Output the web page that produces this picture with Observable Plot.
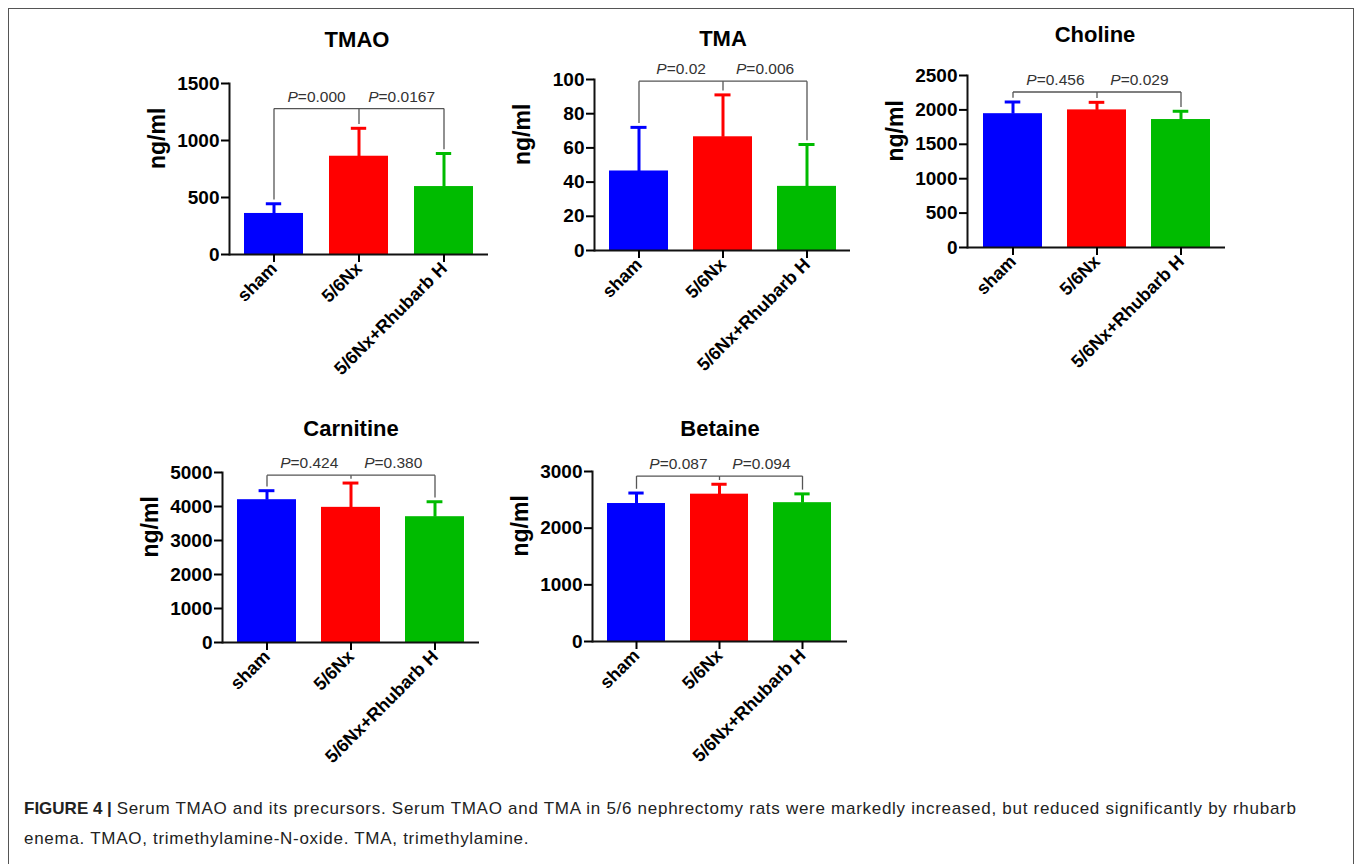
<!DOCTYPE html>
<html><head><meta charset="utf-8">
<script src="https://cdn.jsdelivr.net/npm/d3@7"></script>
<script src="https://cdn.jsdelivr.net/npm/@observablehq/plot@0.6"></script>
<style>
body{margin:0;background:#fff;width:1356px;height:864px;overflow:hidden;position:relative;font-family:"Liberation Sans",Arial,sans-serif;}
#border{position:absolute;left:8px;top:8px;width:1346px;height:900px;border:1.5px solid #555;border-bottom:none;box-sizing:border-box;}
.panel{position:absolute;}
.panel svg{overflow:visible;}
.title{position:absolute;font-weight:bold;font-size:22px;line-height:22px;transform:translateX(-50%);white-space:nowrap;color:#000;}
#caption{position:absolute;left:24px;top:794px;font-size:17px;line-height:30px;color:#222;white-space:nowrap;}
#caption span{letter-spacing:0.72px;}
</style></head><body>
<div id="border"></div>
<div id="root"></div>
<div id="caption"><b>FIGURE 4 |</b> <span>Serum TMAO and its precursors. Serum TMAO and TMA in 5/6 nephrectomy rats were markedly increased, but reduced significantly by rhubarb</span><br><span>enema. TMAO, trimethylamine-N-oxide. TMA, trimethylamine.</span></div>
<script>
// ---------- data ----------
const groups = ["sham", "5/6Nx", "5/6Nx+Rhubarb H"];
const barColors = ["#0000ff", "#ff0000", "#00bb00"];
const titles = ["TMAO", "TMA", "Choline", "Carnitine", "Betaine"];
const yLabel = "ng/ml";

const meanTMAO = [360, 862, 596];
const sdTMAO = [85, 245, 290];
const meanTMA = [46.5, 66.5, 37.5];
const sdTMA = [25.5, 24.5, 24.5];
const meanCholine = [1945, 2000, 1860];
const sdCholine = [170, 110, 120];
const meanCarnitine = [4200, 3975, 3700];
const sdCarnitine = [265, 715, 440];
const meanBetaine = [2435, 2600, 2450];
const sdBetaine = [185, 175, 155];

const pTMAO = ["0.000", "0.0167"];
const pTMA = ["0.02", "0.006"];
const pCholine = ["0.456", "0.029"];
const pCarnitine = ["0.424", "0.380"];
const pBetaine = ["0.087", "0.094"];

const yMaxes = [1500, 100, 2500, 5000, 3000];
const yTickSteps = [500, 20, 500, 1000, 1000];
const bracketLevels = [1280, 99, 2260, 4920, 2920];
const comparisons = [[0, 1], [1, 2]];

// ---------- layout (page pixels) ----------
const layout = [
  {axisX: 229, right: 488, yTop: 83, y0: 254, tx: 357, tb: 48},
  {axisX: 594, right: 850, yTop: 79, y0: 250, tx: 723, tb: 47},
  {axisX: 967, right: 1225, yTop: 75, y0: 247, tx: 1095, tb: 43},
  {axisX: 222, right: 479, yTop: 472, y0: 642, tx: 351, tb: 437},
  {axisX: 592, right: 847, yTop: 471, y0: 641, tx: 720, tb: 437}
];

const means = [meanTMAO, meanTMA, meanCholine, meanCarnitine, meanBetaine];
const sds = [sdTMAO, sdTMA, sdCholine, sdCarnitine, sdBetaine];
const pvals = [pTMAO, pTMA, pCholine, pCarnitine, pBetaine];

const FONT = "Liberation Sans, Arial, sans-serif";
const canvas = document.createElement("canvas");
const ctx = canvas.getContext("2d");
function textW(str, font) { ctx.font = font; return ctx.measureText(str).width; }

const root = document.getElementById("root");

titles.forEach((name, k) => {
  const L = layout[k];
  const ML = 110, MT = 34, MB = 160, MR = 6;
  const fw = L.right - L.axisX, fh = L.y0 - L.yTop;
  const pIn = 0.3, pOut = 0.17;
  const step = fw / (3 - pIn + 2 * pOut), bw = step * (1 - pIn);
  const yMax = yMaxes[k];
  const level = bracketLevels[k];
  const gap = yMax * 0.025;

  const data = groups.map((g, i) => ({g, mean: means[k][i], top: means[k][i] + sds[k][i]}));
  const legs = data.map(d => ({g: d.g, y1: level, y2: Math.min(d.top + gap, level - yMax * 0.008)}));
  const pairs = comparisons.map(([a, b], j) => ({a: groups[a], b: groups[b], p: pvals[k][j]}));

  const pFontSize = 15.5;
  const pMarks = pairs.flatMap(pr => {
    const wP = textW("P", `italic ${pFontSize}px ${FONT}`);
    const rest = "=" + pr.p;
    const wR = textW(rest, `${pFontSize}px ${FONT}`);
    const start = step / 2 - (wP + wR) / 2;
    return [
      Plot.text([pr], {x: "a", y: () => level, text: () => "P", dx: start, dy: -7, textAnchor: "start", lineAnchor: "bottom", fontStyle: "italic", fontSize: pFontSize, fill: "#333"}),
      Plot.text([pr], {x: "a", y: () => level, text: () => rest, dx: start + wP, dy: -7, textAnchor: "start", lineAnchor: "bottom", fontSize: pFontSize, fill: "#333"})
    ];
  });

  const chart = Plot.plot({
    width: ML + fw + MR,
    height: MT + fh + MB,
    marginLeft: ML, marginRight: MR, marginTop: MT, marginBottom: MB,
    x: {type: "band", domain: groups, paddingInner: pIn, paddingOuter: pOut},
    y: {domain: [0, yMax]},
    color: {domain: groups, range: barColors},
    style: {fontFamily: FONT, background: "transparent", overflow: "visible", color: "#000"},
    marks: [
      Plot.barY(data, {x: "g", y: "mean", fill: "g"}),
      Plot.link(data, {x1: "g", x2: "g", y1: "mean", y2: "top", stroke: "g", strokeWidth: 3}),
      Plot.tickY(data, {x: "g", y: "top", stroke: "g", strokeWidth: 3, inset: (bw - 16) / 2}),
      Plot.link(pairs, {x1: "a", x2: "b", y1: () => level, y2: () => level, stroke: "#555", strokeWidth: 1.3}),
      Plot.link(legs, {x1: "g", x2: "g", y1: "y1", y2: "y2", stroke: "#555", strokeWidth: 1.3}),
      ...pMarks,
      Plot.ruleY([0], {stroke: "#111", strokeWidth: 2}),
      Plot.frame({anchor: "left", stroke: "#111", strokeWidth: 2}),
      Plot.axisY({ticks: d3.range(0, yMax + yTickSteps[k] / 2, yTickSteps[k]), tickSize: 8, tickPadding: 2, fontSize: 19, fontWeight: "bold", strokeWidth: 2, label: null, tickFormat: d => String(d)}),
      Plot.axisX({tickSize: 8, tickPadding: 3, tickRotate: -45, fontSize: 18, fontWeight: "bold", strokeWidth: 2, label: null}),
      Plot.text([yLabel], {frameAnchor: "left", rotate: -90, dx: -72, fontSize: 23, fontWeight: "bold", fill: "#000"})
    ]
  });

  const div = document.createElement("div");
  div.className = "panel";
  div.style.left = (L.axisX - ML) + "px";
  div.style.top = (L.yTop - MT) + "px";
  div.appendChild(chart);
  root.appendChild(div);

  const t = document.createElement("div");
  t.className = "title";
  t.textContent = name;
  t.style.left = L.tx + "px";
  t.style.top = (L.tb - 18.6) + "px";
  root.appendChild(t);
});
</script>
</body></html>
